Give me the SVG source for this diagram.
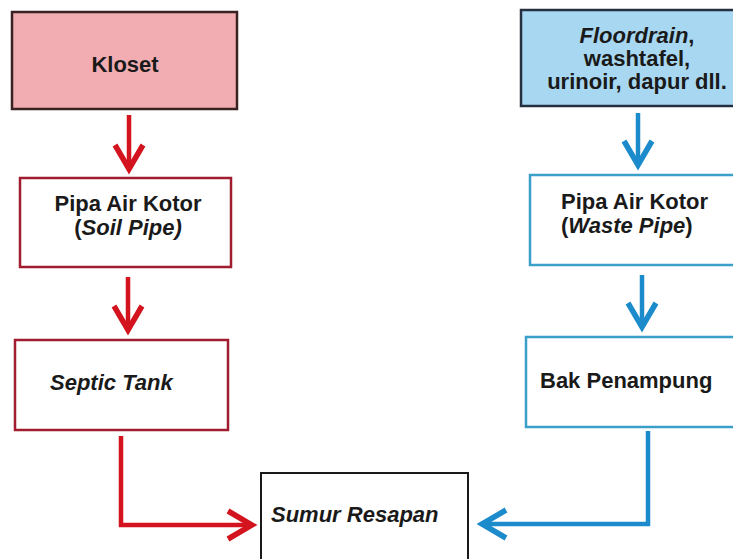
<svg xmlns="http://www.w3.org/2000/svg" width="733" height="559" viewBox="0 0 733 559">
  <defs>
    <style>
      .t { font-family: "Liberation Sans", Arial, sans-serif; font-weight: bold; font-size: 22px; fill: #1a1a1a; }
      .i { font-style: italic; }
      .mid { text-anchor: middle; }
      .red-box { fill: #ffffff; stroke: #a11c2f; stroke-width: 2.5; }
      .blue-box { fill: #ffffff; stroke: #3a9fc9; stroke-width: 2.5; }
      .red { fill: none; stroke: #d3131e; stroke-width: 4.5; }
      .blue { fill: none; stroke: #1c8bcb; stroke-width: 4.5; }
    </style>
    <marker id="chev-red" markerUnits="userSpaceOnUse" viewBox="-30 -20 36 40" refX="0" refY="0" markerWidth="36" markerHeight="40" orient="auto" overflow="visible">
      <path d="M-24,-14 L0,0 L-24,14" fill="none" stroke="#d3131e" stroke-width="5.5" stroke-linejoin="miter"/>
    </marker>
    <marker id="chev-blue" markerUnits="userSpaceOnUse" viewBox="-30 -20 36 40" refX="0" refY="0" markerWidth="36" markerHeight="40" orient="auto" overflow="visible">
      <path d="M-24,-14 L0,0 L-24,14" fill="none" stroke="#1c8bcb" stroke-width="5.5" stroke-linejoin="miter"/>
    </marker>
  </defs>
  <rect width="733" height="559" fill="#ffffff"/>

  <g id="kloset">
    <rect x="12" y="12" width="225" height="97" fill="#f1adb1" stroke="#3a2222" stroke-width="2.5"/>
    <text class="t mid" x="125" y="72">Kloset</text>
  </g>

  <g id="soil-pipe">
    <rect class="red-box" x="20" y="178" width="211" height="89"/>
    <text class="t mid" x="128" y="211">Pipa Air Kotor</text>
    <text class="t mid" x="128" y="235">(<tspan class="i">Soil Pipe)</tspan></text>
  </g>

  <g id="septic-tank">
    <rect class="red-box" x="15" y="340" width="213" height="90"/>
    <text class="t i" x="50" y="390">Septic Tank</text>
  </g>

  <g id="floordrain">
    <rect x="521" y="10" width="225" height="96" fill="#a8d7f1" stroke="#243040" stroke-width="2.5"/>
    <text class="t mid" x="637" y="43"><tspan class="i">Floordrain</tspan>,</text>
    <text class="t mid" x="637" y="66">washtafel,</text>
    <text class="t mid" x="637" y="89">urinoir, dapur dll.</text>
  </g>

  <g id="waste-pipe">
    <rect class="blue-box" x="530" y="175" width="215" height="90"/>
    <text class="t" x="561" y="209">Pipa Air Kotor</text>
    <text class="t" x="561" y="233">(<tspan class="i">Waste Pipe</tspan>)</text>
  </g>

  <g id="bak-penampung">
    <rect class="blue-box" x="526" y="337" width="220" height="90"/>
    <text class="t" x="540" y="388">Bak Penampung</text>
  </g>

  <g id="sumur-resapan">
    <rect x="261" y="473" width="207" height="100" fill="#ffffff" stroke="#1a1a1a" stroke-width="2"/>
    <text class="t i" x="271" y="522">Sumur Resapan</text>
  </g>

  <g id="connectors">
    <path class="red" d="M129,115 V169" marker-end="url(#chev-red)"/>
    <path class="red" d="M128,277 V330" marker-end="url(#chev-red)"/>
    <path class="red" d="M121,436 V525 H252" marker-end="url(#chev-red)"/>
    <path class="blue" d="M638,113 V165" marker-end="url(#chev-blue)"/>
    <path class="blue" d="M642,275 V327" marker-end="url(#chev-blue)"/>
    <path class="blue" d="M648,431 V524 H482" marker-end="url(#chev-blue)"/>
  </g>
</svg>
